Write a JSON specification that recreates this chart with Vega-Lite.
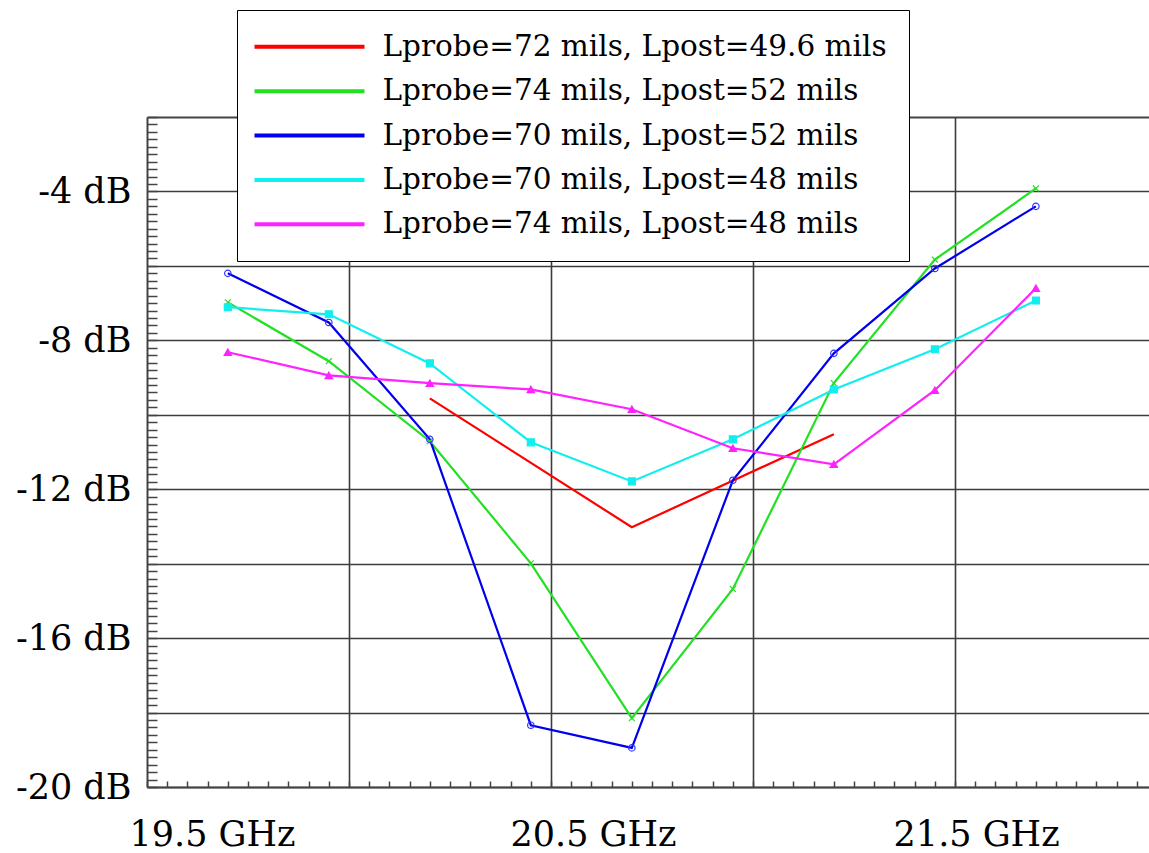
{
  "$schema": "https://vega.github.io/schema/vega-lite/v6.json",
  "width": 1002,
  "height": 670,
  "autosize": {"type": "none"},
  "padding": {"left": 147, "top": 117, "right": 0, "bottom": 66},
  "background": "white",
  "config": {"view": {"stroke": null}, "font": "DejaVu Serif"},
  "data": {
    "values": [
      {"series": "Lprobe=72 mils, Lpost=49.6 mils", "f": 20.0, "db": -9.56},
      {"series": "Lprobe=72 mils, Lpost=49.6 mils", "f": 20.5, "db": -13.02},
      {"series": "Lprobe=72 mils, Lpost=49.6 mils", "f": 21.0, "db": -10.52},
      {"series": "Lprobe=74 mils, Lpost=52 mils", "f": 19.5, "db": -6.98},
      {"series": "Lprobe=74 mils, Lpost=52 mils", "f": 19.75, "db": -8.56},
      {"series": "Lprobe=74 mils, Lpost=52 mils", "f": 20.0, "db": -10.71},
      {"series": "Lprobe=74 mils, Lpost=52 mils", "f": 20.25, "db": -13.99},
      {"series": "Lprobe=74 mils, Lpost=52 mils", "f": 20.5, "db": -18.15},
      {"series": "Lprobe=74 mils, Lpost=52 mils", "f": 20.75, "db": -14.68},
      {"series": "Lprobe=74 mils, Lpost=52 mils", "f": 21.0, "db": -9.15},
      {"series": "Lprobe=74 mils, Lpost=52 mils", "f": 21.25, "db": -5.83},
      {"series": "Lprobe=74 mils, Lpost=52 mils", "f": 21.5, "db": -3.92},
      {"series": "Lprobe=70 mils, Lpost=52 mils", "f": 19.5, "db": -6.20},
      {"series": "Lprobe=70 mils, Lpost=52 mils", "f": 19.75, "db": -7.52},
      {"series": "Lprobe=70 mils, Lpost=52 mils", "f": 20.0, "db": -10.66},
      {"series": "Lprobe=70 mils, Lpost=52 mils", "f": 20.25, "db": -18.34},
      {"series": "Lprobe=70 mils, Lpost=52 mils", "f": 20.5, "db": -18.95},
      {"series": "Lprobe=70 mils, Lpost=52 mils", "f": 20.75, "db": -11.76},
      {"series": "Lprobe=70 mils, Lpost=52 mils", "f": 21.0, "db": -8.35},
      {"series": "Lprobe=70 mils, Lpost=52 mils", "f": 21.25, "db": -6.07},
      {"series": "Lprobe=70 mils, Lpost=52 mils", "f": 21.5, "db": -4.40},
      {"series": "Lprobe=70 mils, Lpost=48 mils", "f": 19.5, "db": -7.11},
      {"series": "Lprobe=70 mils, Lpost=48 mils", "f": 19.75, "db": -7.30},
      {"series": "Lprobe=70 mils, Lpost=48 mils", "f": 20.0, "db": -8.62},
      {"series": "Lprobe=70 mils, Lpost=48 mils", "f": 20.25, "db": -10.74},
      {"series": "Lprobe=70 mils, Lpost=48 mils", "f": 20.5, "db": -11.79},
      {"series": "Lprobe=70 mils, Lpost=48 mils", "f": 20.75, "db": -10.66},
      {"series": "Lprobe=70 mils, Lpost=48 mils", "f": 21.0, "db": -9.32},
      {"series": "Lprobe=70 mils, Lpost=48 mils", "f": 21.25, "db": -8.24},
      {"series": "Lprobe=70 mils, Lpost=48 mils", "f": 21.5, "db": -6.93},
      {"series": "Lprobe=74 mils, Lpost=48 mils", "f": 19.5, "db": -8.32},
      {"series": "Lprobe=74 mils, Lpost=48 mils", "f": 19.75, "db": -8.94},
      {"series": "Lprobe=74 mils, Lpost=48 mils", "f": 20.0, "db": -9.15},
      {"series": "Lprobe=74 mils, Lpost=48 mils", "f": 20.25, "db": -9.32},
      {"series": "Lprobe=74 mils, Lpost=48 mils", "f": 20.5, "db": -9.85},
      {"series": "Lprobe=74 mils, Lpost=48 mils", "f": 20.75, "db": -10.90},
      {"series": "Lprobe=74 mils, Lpost=48 mils", "f": 21.0, "db": -11.33},
      {"series": "Lprobe=74 mils, Lpost=48 mils", "f": 21.25, "db": -9.34},
      {"series": "Lprobe=74 mils, Lpost=48 mils", "f": 21.5, "db": -6.60}
    ]
  },
  "layer": [
    {
      "mark": {"type": "line", "strokeWidth": 2.2},
      "encoding": {
        "x": {
          "field": "f", "type": "quantitative",
          "scale": {"domain": [19.3, 21.78], "nice": false, "zero": false},
          "axis": {
            "orient": "bottom", "values": [19.8, 20.3, 20.8, 21.3],
            "grid": true, "gridColor": "#3c3c3c", "gridWidth": 1.6, "gridOpacity": 1,
            "ticks": false, "labels": false,
            "domain": true, "domainColor": "#444444", "domainWidth": 2, "title": null
          }
        },
        "y": {
          "field": "db", "type": "quantitative",
          "scale": {"domain": [-20, -2], "nice": false, "zero": false},
          "axis": {
            "orient": "left",
            "values": [-20, -18, -16, -14, -12, -10, -8, -6, -4],
            "grid": true, "gridColor": "#3c3c3c", "gridWidth": 1.6, "gridOpacity": 1,
            "ticks": false,
            "labelExpr": "datum.value % 4 === 0 ? datum.value + ' dB' : ''",
            "labelFont": "DejaVu Serif", "labelFontSize": 35, "labelColor": "black",
            "labelPadding": 16, "labelOverlap": false, "labelFlush": false,
            "domain": true, "domainColor": "#444444", "domainWidth": 2, "title": null
          }
        },
        "color": {
          "field": "series", "type": "nominal",
          "scale": {
            "domain": ["Lprobe=72 mils, Lpost=49.6 mils", "Lprobe=74 mils, Lpost=52 mils", "Lprobe=70 mils, Lpost=52 mils", "Lprobe=70 mils, Lpost=48 mils", "Lprobe=74 mils, Lpost=48 mils"],
            "range": ["#ff0000", "#22e022", "#0000ee", "#11eeee", "#ff22ff"]
          },
          "legend": {
            "orient": "none", "legendX": 90, "legendY": -107, "title": null,
            "symbolType": "M-3.5,0H16.5", "symbolSize": 121, "symbolStrokeWidth": 4,
            "symbolFillColor": "transparent",
            "labelFont": "DejaVu Serif", "labelFontSize": 29.5, "labelColor": "black",
            "labelOffset": 94, "labelLimit": 0, "rowPadding": 13.4,
            "padding": 22, "strokeColor": "black", "fillColor": "white",
            "encoding": {"legend": {"update": {"strokeWidth": {"value": 2}}}}
          }
        }
      }
    },
    {
      "transform": [{"filter": "datum.series !== 'Lprobe=72 mils, Lpost=49.6 mils'"}],
      "mark": {"type": "point", "strokeWidth": 1.2, "opacity": 1},
      "encoding": {
        "x": {
          "field": "f", "type": "quantitative",
          "axis": {
            "orient": "bottom", "offset": -6, "tickCount": 50, "ticks": true, "tickSize": 6,
            "tickColor": "#444444", "tickWidth": 1.5, "labels": false, "domain": false,
            "grid": false, "title": null
          }
        },
        "y": {
          "field": "db", "type": "quantitative",
          "axis": {
            "orient": "left", "offset": -10, "tickCount": 90, "ticks": true, "tickSize": 10,
            "tickColor": "#444444", "tickWidth": 1.5, "labels": false, "domain": false,
            "grid": false, "title": null
          }
        },
        "shape": {
          "field": "series", "type": "nominal",
          "scale": {
            "domain": ["Lprobe=74 mils, Lpost=52 mils", "Lprobe=70 mils, Lpost=52 mils", "Lprobe=70 mils, Lpost=48 mils", "Lprobe=74 mils, Lpost=48 mils"],
            "range": ["M-1,-1L1,1M-1,1L1,-1", "circle", "square", "triangle-up"]
          },
          "legend": null
        },
        "stroke": {
          "field": "series", "type": "nominal",
          "scale": {
            "domain": ["Lprobe=74 mils, Lpost=52 mils", "Lprobe=70 mils, Lpost=52 mils", "Lprobe=70 mils, Lpost=48 mils", "Lprobe=74 mils, Lpost=48 mils"],
            "range": ["#22e022", "#3333ff", "#11eeee", "#ff22ff"]
          },
          "legend": null
        },
        "fill": {
          "field": "series", "type": "nominal",
          "scale": {
            "domain": ["Lprobe=74 mils, Lpost=52 mils", "Lprobe=70 mils, Lpost=52 mils", "Lprobe=70 mils, Lpost=48 mils", "Lprobe=74 mils, Lpost=48 mils"],
            "range": ["transparent", "transparent", "#11eeee", "#ff22ff"]
          },
          "legend": null
        },
        "size": {
          "field": "series", "type": "nominal",
          "scale": {
            "domain": ["Lprobe=74 mils, Lpost=52 mils", "Lprobe=70 mils, Lpost=52 mils", "Lprobe=70 mils, Lpost=48 mils", "Lprobe=74 mils, Lpost=48 mils"],
            "range": [35, 55, 60, 45]
          },
          "legend": null
        }
      }
    },
    {
      "mark": {"type": "point", "opacity": 0},
      "encoding": {
        "x": {
          "field": "f", "type": "quantitative",
          "axis": {
            "orient": "bottom", "values": [19.461, 20.404, 21.352],
            "labelExpr": "format(round(datum.value * 2) / 2, '.1f') + ' GHz'",
            "ticks": false, "domain": false, "grid": false,
            "labelFont": "DejaVu Serif", "labelFontSize": 35, "labelColor": "black",
            "labelBaseline": "alphabetic",
            "labelPadding": 58, "labelFlush": false, "labelOverlap": false, "title": null
          }
        },
        "y": {"field": "db", "type": "quantitative", "axis": null}
      }
    },
    {
      "mark": {"type": "point", "opacity": 0},
      "encoding": {
        "x": {
          "field": "f", "type": "quantitative",
          "axis": {
            "orient": "top", "ticks": false, "labels": false, "grid": false,
            "domain": true, "domainColor": "#444444", "domainWidth": 2, "title": null
          }
        },
        "y": {"field": "db", "type": "quantitative", "axis": null}
      }
    }
  ],
  "resolve": {"axis": {"x": "independent", "y": "independent"}}
}
